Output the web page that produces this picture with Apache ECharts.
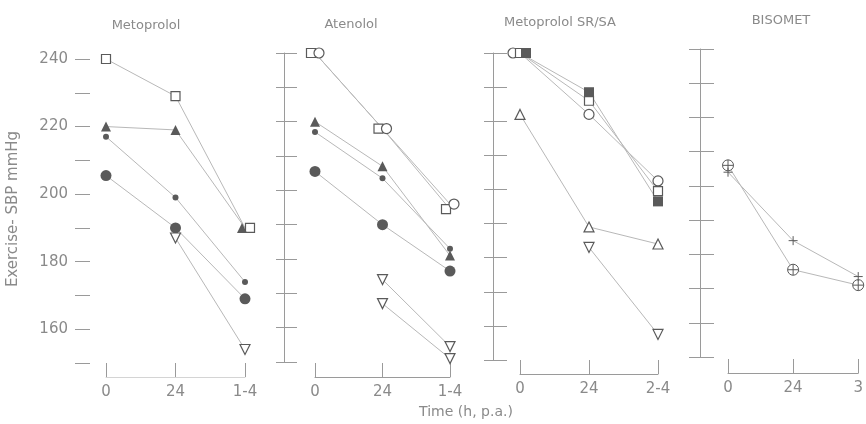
<!DOCTYPE html>
<html>
<head>
<meta charset="utf-8">
<script src="https://cdn.jsdelivr.net/npm/echarts@6/dist/echarts.min.js"></script>
<style>html,body{margin:0;padding:0;background:#fff}#c{width:866px;height:424px}</style>
</head>
<body>
<div id="c"></div>
<script>
// ---- data ----
const panelTitles = ['Metoprolol', 'Atenolol', 'Metoprolol SR/SA', 'BISOMET'];
const metCats = ['0', '24', '1-4'];
const ateCats = ['0', '24', '1-4'];
const srCats = ['0', '24', '2-4'];
const bisCats = ['0', '24', '3'];
const yTickLabels = ['160', '180', '200', '220', '240'];
const yMin = 150, yMax = 240, yStep = 10;

// Metoprolol
const metOpenSquare = [240, 229, 190];
const metFilledTriangle = [220, 219, 190];
const metSmallDot = [217, 199, 174];
const metBigDot = [205.5, 190, 169];
const metOpenDownTri = [null, 187, 154];
// Atenolol
const ateOpenSquare = [240, 218, 194.5];
const ateOpenCircle = [240, 218, 196];
const ateFilledTriangle = [220, 207, 181];
const ateSmallDot = [217, 203.5, 183];
const ateBigDot = [205.5, 190, 176.5];
const ateDownTriA = [null, 174, 154.5];
const ateDownTriB = [null, 167, 151];
// Metoprolol SR/SA
const srOpenCircle = [240, 222, 202.5];
const srOpenSquare = [240, 226, 199.5];
const srFilledSquare = [240, 228.5, 196.5];
const srOpenTri = [222, 189, 184];
const srDownTri = [null, 183, 157.5];
// BISOMET
const bisCirclePlus = [206, 175.5, 171];
const bisPlus = [204, 184, 173.5];

// ---- styles ----
const TXT = '#8a8a8a';
const AX = '#9a9a9a';
const MK = '#5a5a5a';
const LN = '#b8b8b8';
const FONT = 'DejaVu Sans';

const circlePlusPath = 'path://M0,10A10,10 0 1,1 20,10A10,10 0 1,1 0,10Z M10,0L10,20 M0,10L20,10';
const plusPath = 'path://M5,0L5,10 M0,5L10,5';

const styles = {
  openSquare: {symbol: 'rect', symbolSize: 9, itemStyle: {color: '#fff', borderColor: MK, borderWidth: 1.2}},
  openCircle: {symbol: 'circle', symbolSize: 10, itemStyle: {color: '#fff', borderColor: MK, borderWidth: 1.2}},
  filledTriangle: {symbol: 'triangle', symbolSize: 10, itemStyle: {color: MK}},
  openTriangle: {symbol: 'triangle', symbolSize: 10, itemStyle: {color: '#fff', borderColor: MK, borderWidth: 1.2}},
  openDownTri: {symbol: 'triangle', symbolSize: 10, symbolRotate: 180, itemStyle: {color: '#fff', borderColor: MK, borderWidth: 1.2}},
  smallDot: {symbol: 'circle', symbolSize: 6, itemStyle: {color: MK}},
  bigDot: {symbol: 'circle', symbolSize: 11, itemStyle: {color: MK}},
  filledSquare: {symbol: 'rect', symbolSize: 10, itemStyle: {color: MK}},
  circlePlus: {symbol: circlePlusPath, symbolSize: 11, itemStyle: {color: '#fff', borderColor: MK, borderWidth: 1}},
  plus: {symbol: plusPath, symbolSize: 9, itemStyle: {color: '#fff', borderColor: MK, borderWidth: 1}}
};

// offsets: {pointIndex: [dx, dy]} — only marker displacement for overlapping symbols
function mkSeries(panel, data, styleKey, offsets) {
  const s = styles[styleKey];
  const items = data.map((v, i) => {
    if (v === null) return null;
    if (offsets && offsets[i]) return {value: v, symbolOffset: offsets[i]};
    return v;
  });
  return Object.assign({
    type: 'line',
    xAxisIndex: panel,
    yAxisIndex: panel * 2,
    data: items,
    showSymbol: true,
    connectNulls: false,
    lineStyle: {color: LN, width: 1},
    emphasis: {disabled: true},
    z: 3
  }, s);
}

// ---- layout ----
const grids = [
  {left: 106, width: 139, top: 59, height: 304},
  {left: 315, width: 135, top: 53, height: 309},
  {left: 520, width: 138, top: 53, height: 307},
  {left: 728, width: 136, top: 49, height: 308}
];
const yOffsets = [31, 31, 27, 28];
const xOffsets = [14, 15, 14, 16];
const tickOut = [0, 8, 9, 11];
const tickIn = [15, 13, 14, 14];
const cats = [metCats, ateCats, srCats, bisCats];
const titlePos = [[141, 14], [346, 13], [555, 11], [776, 9]];

const xAxes = [], yAxes = [];
for (let p = 0; p < 4; p++) {
  xAxes.push({
    type: 'category', gridIndex: p, data: cats[p], boundaryGap: false, position: 'bottom', offset: xOffsets[p],
    axisLine: {show: true, lineStyle: {color: p === 0 ? '#d4d4d4' : AX, width: 1}},
    axisTick: {show: true, inside: true, length: 14, lineStyle: {color: AX}},
    axisLabel: {margin: 8, fontSize: 15, color: TXT, fontFamily: FONT},
    splitLine: {show: false}
  });
  yAxes.push({
    type: 'value', gridIndex: p, min: yMin, max: yMax, interval: yStep, position: 'left', offset: yOffsets[p],
    axisLine: {show: p > 0, lineStyle: {color: AX, width: 1}},
    axisTick: {show: true, inside: p === 0, length: p === 0 ? tickIn[0] : tickOut[p], lineStyle: {color: AX}},
    axisLabel: {show: p === 0, margin: 7, fontSize: 15, color: TXT, fontFamily: FONT,
      formatter: v => yTickLabels.indexOf(String(v)) >= 0 ? String(v) : ''},
    splitLine: {show: false}
  });
  yAxes.push({
    type: 'value', gridIndex: p, min: yMin, max: yMax, interval: yStep, position: 'left', offset: yOffsets[p],
    axisLine: {show: false},
    axisTick: {show: p > 0, inside: true, length: tickIn[p], lineStyle: {color: AX}},
    axisLabel: {show: false},
    splitLine: {show: false}
  });
}

const series = [
  mkSeries(0, metOpenSquare, 'openSquare', {2: [5, 0]}),
  mkSeries(0, metFilledTriangle, 'filledTriangle', {2: [-3, 0]}),
  mkSeries(0, metSmallDot, 'smallDot'),
  mkSeries(0, metBigDot, 'bigDot'),
  mkSeries(0, metOpenDownTri, 'openDownTri'),

  mkSeries(1, ateOpenSquare, 'openSquare', {0: [-4, 0], 1: [-4, 0], 2: [-4, 0]}),
  mkSeries(1, ateOpenCircle, 'openCircle', {0: [4, 0], 1: [4, 0], 2: [4, 0]}),
  mkSeries(1, ateFilledTriangle, 'filledTriangle'),
  mkSeries(1, ateSmallDot, 'smallDot'),
  mkSeries(1, ateBigDot, 'bigDot'),
  mkSeries(1, ateDownTriA, 'openDownTri'),
  mkSeries(1, ateDownTriB, 'openDownTri'),

  mkSeries(2, srOpenCircle, 'openCircle', {0: [-7, 0]}),
  mkSeries(2, srOpenSquare, 'openSquare'),
  mkSeries(2, srFilledSquare, 'filledSquare', {0: [6, 0]}),
  mkSeries(2, srOpenTri, 'openTriangle'),
  mkSeries(2, srDownTri, 'openDownTri'),

  mkSeries(3, bisCirclePlus, 'circlePlus'),
  mkSeries(3, bisPlus, 'plus')
];

const titles = panelTitles.map((t, i) => ({
  text: t, left: titlePos[i][0], top: titlePos[i][1], textAlign: 'center',
  textStyle: {fontSize: 13, fontWeight: 'normal', color: TXT, fontFamily: FONT}
}));

const chart = echarts.init(document.getElementById('c'), null, {renderer: 'canvas'});
chart.setOption({
  animation: false,
  backgroundColor: '#fff',
  title: titles,
  grid: grids,
  xAxis: xAxes,
  yAxis: yAxes,
  series: series,
  graphic: [
    {type: 'text', x: 13, y: 209, rotation: Math.PI / 2,
      style: {text: 'Exercise- SBP mmHg', fontSize: 15, fill: TXT, fontFamily: FONT, textAlign: 'center', textVerticalAlign: 'middle'}},
    {type: 'text', x: 466, y: 412,
      style: {text: 'Time (h, p.a.)', fontSize: 14, fill: TXT, fontFamily: FONT, textAlign: 'center', textVerticalAlign: 'middle'}}
  ]
});
</script>
</body>
</html>
